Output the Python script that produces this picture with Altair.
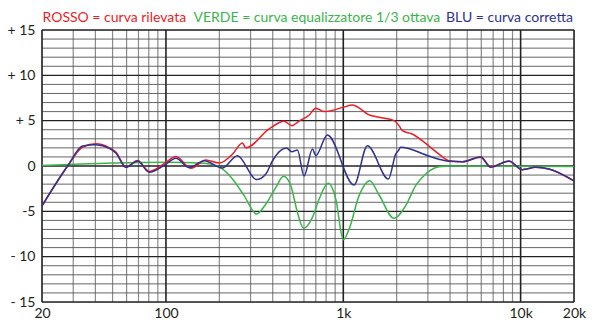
import altair as alt
import pandas as pd

# ---- data ----
red_freq = [20, 27.9, 33.9, 40.3, 48, 52.3, 59.5, 69.2, 80.5, 100, 113.8, 138.3, 168, 199.7, 237.3,
            270, 282, 382, 464, 513, 563, 641, 700, 780, 1000, 1125, 1256, 1368, 1592, 1933,
            2062, 2153, 2449, 2790, 3042, 3465, 3948, 4690, 5953, 6777, 8590, 10210, 12150, 14430, 20000]
red_db = [-4.4, 0.0, 2.1, 2.45, 2.0, 1.5, -0.1, 0.6, -0.6, 0.4, 1.05, -0.25, 0.66, 0.33, 1.3,
          2.55, 2.0, 4.1, 4.93, 4.45, 4.95, 5.6, 6.36, 6.0, 6.47, 6.73, 6.28, 5.73, 5.37, 5.0,
          4.45, 3.9, 3.53, 2.79, 2.2, 1.32, 0.58, 0.47, 1.03, -0.07, 0.52, -0.4, -0.15, -0.33, -1.65]

blue_freq = [20, 27.9, 33.9, 40.3, 48, 52.3, 59.5, 69.2, 80.5, 100, 113.8, 135.3, 164.4, 208.3, 253,
             324, 366, 399, 478, 513, 551, 601, 670, 700, 813, 1150, 1368, 1796, 1976, 2043,
             2108, 3042, 3465, 3948, 4690, 5953, 6777, 8590, 10210, 12150, 14430, 20000]
blue_db = [-4.4, 0.0, 2.2, 2.35, 1.95, 1.4, -0.15, 0.55, -0.7, 0.2, 0.85, -0.18, 0.58, -0.22, 1.14,
           -1.5, -0.88, 0.58, 1.98, 1.58, 1.76, -1.1, 1.87, 1.14, 3.42, -2.09, 2.24, -1.43, 1.32, 1.69,
           2.06, 1.1, 0.75, 0.52, 0.47, 0.96, -0.15, 0.55, -0.4, -0.15, -0.33, -1.65]

green_freq = [20, 100, 164.4, 199.7, 237.3, 276, 324, 366, 417, 460, 506, 551, 597, 670, 731,
              824, 907, 1000, 1079, 1228, 1410, 1592, 1933, 2250, 2558, 2917, 3465, 3948, 20000]
green_db = [0.05, 0.4, 0.3, -0.1, -1.43, -3.27, -5.29, -4.19, -2.35, -1.14, -2.17, -5.1, -6.87, -5.66, -3.64,
            -1.91, -3.64, -8.13, -6.95, -3.27, -1.62, -3.2, -5.77, -4.37, -2.17, -0.88, -0.08, 0.0, -0.05]

x_ticks = [20, 100, 1000, 10000, 20000]
y_ticks = [-15, -10, -5, 0, 5, 10, 15]
x_grid_major = [20, 100, 1000, 10000, 20000]
x_grid_minor = [30, 40, 50, 60, 70, 80, 90,
                200, 300, 400, 500, 600, 700, 800, 900,
                2000, 3000, 4000, 5000, 6000, 7000, 8000, 9000]
y_grid_major = [-15, -10, -5, 0, 5, 10, 15]
y_grid_minor = [v for v in range(-14, 15) if v % 5 != 0]

title_texts = ["ROSSO = curva rilevata", "VERDE = curva equalizzatore 1/3 ottava", "BLU = curva corretta"]

RED = "#ED1C24"
GREEN = "#39B54A"
BLUE = "#2E3192"
FONT = "Lato"
TXT = "#231f20"

xscale = alt.Scale(type="log", domain=[20, 20000], nice=False)
yscale = alt.Scale(domain=[-15, 15], nice=False, zero=False)

xaxis = alt.Axis(values=x_ticks, grid=False, domain=False, ticks=False,
                 labelFlush=False, labelOverlap=False,
                 labelExpr="datum.value >= 1000 ? (datum.value/1000) + 'k' : '' + datum.value",
                 labelFont=FONT, labelFontSize=14, labelColor=TXT, labelPadding=4)
yaxis = alt.Axis(values=y_ticks, grid=False, domain=False, ticks=False, labelFlush=False,
                 labelExpr="datum.value > 0 ? '+ ' + datum.value : (datum.value == -5 ? '-5' : (datum.value < 0 ? '- ' + (-datum.value) : '0'))",
                 labelFont=FONT, labelFontSize=14, labelColor=TXT, labelPadding=7)

def X(field):
    return alt.X(field, type="quantitative", scale=xscale, title=None, axis=xaxis)

def Y(field):
    return alt.Y(field, type="quantitative", scale=yscale, title=None, axis=yaxis)

def curve(freq, db, color):
    df = pd.DataFrame({"f": freq, "db": db})
    return alt.Chart(df).mark_line(color=color, strokeWidth=1.5, interpolate="monotone").encode(
        x=X("f"), y=Y("db"))

def vgrid(vals, color, width):
    return alt.Chart(pd.DataFrame({"f": vals})).mark_rule(color=color, strokeWidth=width).encode(x=X("f"))

def hgrid(vals, color, width):
    return alt.Chart(pd.DataFrame({"db": vals})).mark_rule(color=color, strokeWidth=width).encode(y=Y("db"))

def title_text(i, color, xpos):
    return alt.Chart(pd.DataFrame({"t": [title_texts[i]]})).mark_text(
        align="left", baseline="alphabetic", font=FONT, fontSize=14, color=color
    ).encode(text="t:N", x=alt.value(xpos), y=alt.value(-8))

chart = alt.layer(
    vgrid(x_grid_minor, "#8a8a8a", 1.2),
    hgrid(y_grid_minor, "#555555", 0.9),
    hgrid(y_grid_major, "#222222", 1.4),
    vgrid(x_grid_major, "#222222", 1.6),
    curve(green_freq, green_db, GREEN),
    curve(red_freq, red_db, RED),
    curve(blue_freq, blue_db, BLUE),
    title_text(0, RED, 0.5),
    title_text(1, GREEN, 151.5),
    title_text(2, BLUE, 404),
).properties(
    width=532, height=272,
    autosize=alt.AutoSizeParams(type="none"),
    padding={"left": 34, "top": 22, "right": 18, "bottom": 18},
).configure_view(stroke=None).configure(background="white")

chart.save("out.html", embed_options={"renderer": "svg", "actions": False})
